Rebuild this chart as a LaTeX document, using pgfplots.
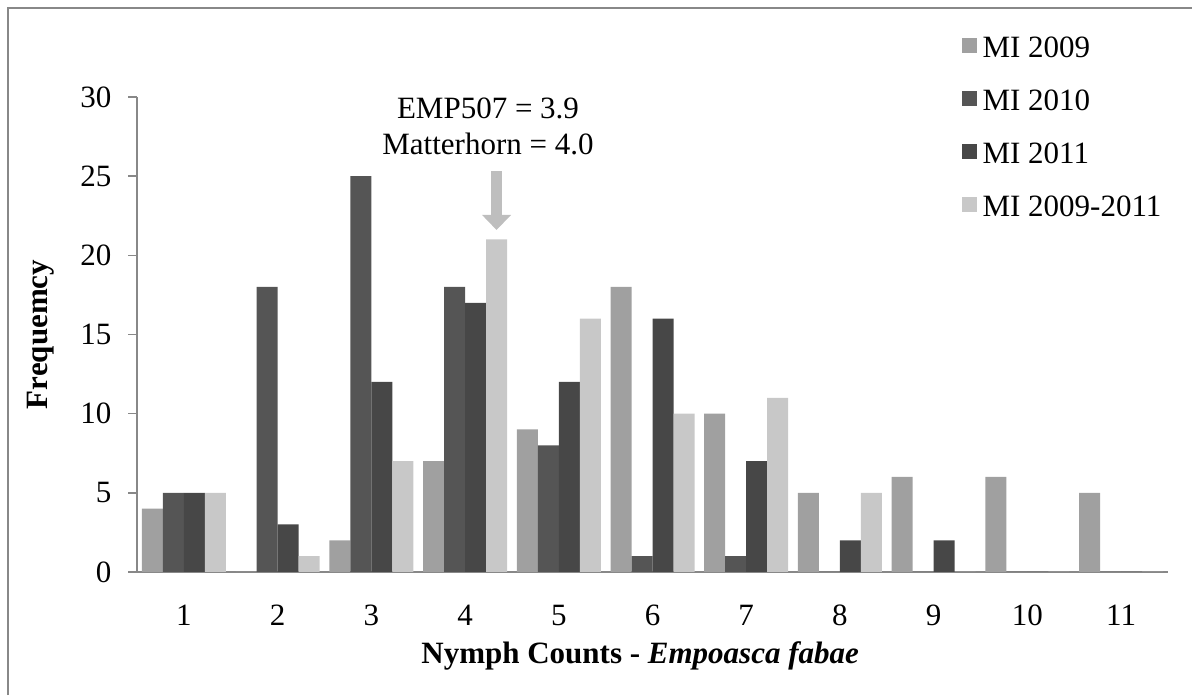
\documentclass[border=0pt]{standalone}
\usepackage{pgfplots}
\pgfplotsset{compat=1.18}
\usepackage{fontspec}
\setmainfont{Liberation Serif}
\usetikzlibrary{arrows.meta}
\definecolor{cA}{HTML}{A0A0A0}
\definecolor{cB}{HTML}{555555}
\definecolor{cC}{HTML}{474747}
\definecolor{cD}{HTML}{C8C8C8}
\definecolor{axgray}{HTML}{888888}
\definecolor{arrgray}{HTML}{BEBEBE}
\begin{document}
\begin{tikzpicture}
\useasboundingbox (0,0) rectangle (596pt,347.5pt);
\draw[axgray, line width=1pt] (3.75pt,0) -- (3.75pt,343.25pt) -- (597pt,343.25pt);
\begin{axis}[
  at={(68.5pt,61.5pt)}, anchor=south west,
  scale only axis, width=515.5pt, height=237.5pt,
  ybar=0pt, bar width=10.5pt,
  xmin=0.5, xmax=11.5, ymin=0, ymax=30,
  xtick={1,...,11}, ytick={0,5,...,30},
  axis x line*=bottom, axis y line*=left,
  axis line style={axgray, line width=0.9pt},
  x tick style={draw=none},
  y tick style={axgray, line width=0.75pt},
  tick align=outside, major tick length=4.5pt,
  /pgf/number format/assume math mode=true,
  tick label style={font=\fontsize{15.5}{18}\selectfont},
  xticklabel style={yshift=-8.45pt},
  yticklabel style={anchor=east, xshift=-4.8pt},
  xlabel={\textbf{Nymph Counts - \textit{Empoasca fabae}}},
  ylabel={\textbf{Frequemcy}},
  label style={font=\fontsize{15.5}{18}\selectfont},
  xlabel style={at={(axis description cs:0.488,-0.1916)}, anchor=base},
  ylabel style={at={(axis description cs:-0.0931,0.5)}, anchor=center, rotate=0},
  legend style={draw=none, fill=none, at={(axis description cs:0.8002,1.1286)}, anchor=north west,
    font=\fontsize{15.5}{18}\selectfont, row sep=16pt, inner sep=0pt,
    nodes={inner sep=0pt, text height=10.5pt, text depth=0pt}},
  legend cell align=left,
  legend image code/.code={\fill[#1] (0pt,-3pt) rectangle (7.5pt,4.5pt);},
  every axis plot/.append style={draw=none},
]
\addplot[fill=cA] coordinates {(1,4) (2,0) (3,2) (4,7) (5,9) (6,18) (7,10) (8,5) (9,6) (10,6) (11,5)};
\addplot[fill=cB] coordinates {(1,5) (2,18) (3,25) (4,18) (5,8) (6,1) (7,1) (8,0) (9,0) (10,0) (11,0)};
\addplot[fill=cC] coordinates {(1,5) (2,3) (3,12) (4,17) (5,12) (6,16) (7,7) (8,2) (9,2) (10,0) (11,0)};
\addplot[fill=cD] coordinates {(1,5) (2,1) (3,7) (4,21) (5,16) (6,10) (7,11) (8,5) (9,0) (10,0) (11,0)};
\legend{\,MI 2009,\,MI 2010,\,MI 2011,\,MI 2009-2011}
\draw[-{Triangle[width=14pt,length=7.5pt]}, line width=5.5pt, arrgray] (axis cs:4.336,25.3) -- (axis cs:4.336,21.6);
\node[anchor=base, font=\fontsize{15.5}{18}\selectfont] at (axis cs:4.245,28.67) {EMP507 = 3.9};
\node[anchor=base, font=\fontsize{15.5}{18}\selectfont] at (axis cs:4.245,26.34) {Matterhorn = 4.0};
\end{axis}
\end{tikzpicture}
\end{document}
